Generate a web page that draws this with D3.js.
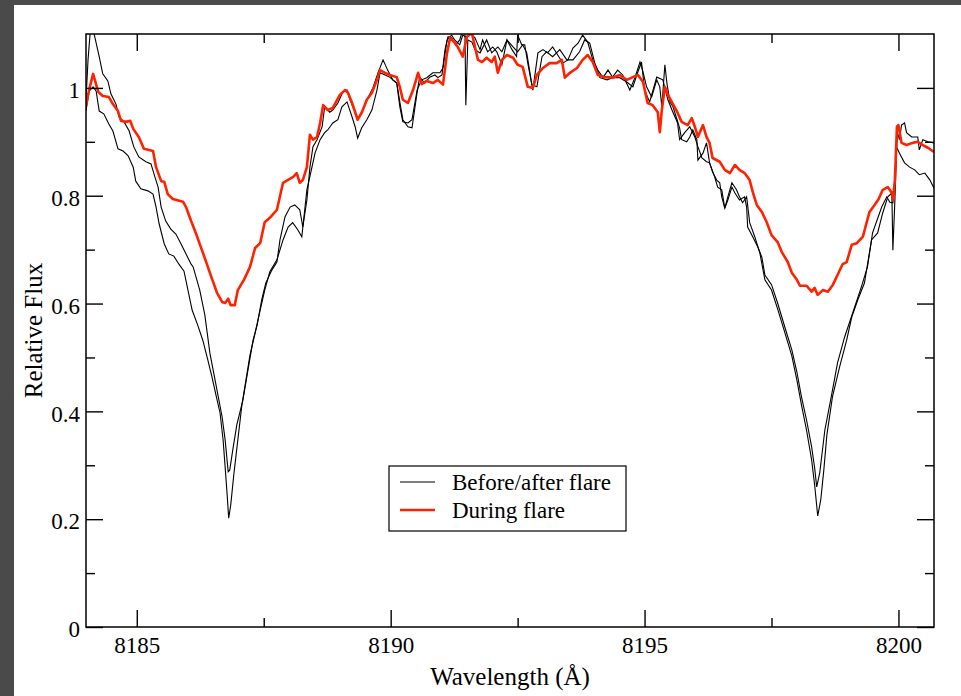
<!DOCTYPE html>
<html>
<head>
<meta charset="utf-8">
<script src="https://cdn.jsdelivr.net/npm/d3@7/dist/d3.min.js"></script>
<style>
  html, body { margin: 0; padding: 0; background: #ffffff; }
  svg { display: block; }
  svg text { font-family: 'Liberation Serif', 'Times New Roman', 'DejaVu Serif', serif; }
</style>
</head>
<body>
<svg id="chart" width="961" height="696"></svg>
<script>
// ---------------- DATA ----------------
const xMajorTicks = [8185, 8190, 8195, 8200];
const xMinorTicks = [8187.5, 8192.5, 8197.5];
const yMajorTicks = [0, 0.2, 0.4, 0.6, 0.8, 1];
const yMajorLabels = ["0", "0.2", "0.4", "0.6", "0.8", "1"];
const yMinorTicks = [0.1, 0.3, 0.5, 0.7, 0.9];
const xTitle = "Wavelength (Å)";
const yTitle = "Relative Flux";
const seriesNames = ["Before/after flare", "During flare"];

// Before flare (black, deeper cores)
const waveBefore = [8184.00,8184.06,8184.14,8184.20,8184.26,8184.35,8184.45,8184.53,8184.63,8184.73,8184.83,8184.93,8184.98,8185.08,8185.22,8185.32,8185.38,8185.44,8185.54,8185.63,8185.73,8185.83,8185.93,8186.09,8186.20,8186.30,8186.40,8186.48,8186.56,8186.64,8186.70,8186.74,8186.78,8186.81,8186.85,8186.91,8186.99,8187.07,8187.15,8187.23,8187.33,8187.43,8187.52,8187.62,8187.76,8187.88,8187.98,8188.07,8188.17,8188.25,8188.35,8188.45,8188.51,8188.61,8188.70,8188.76,8188.86,8188.96,8189.04,8189.14,8189.24,8189.30,8189.35,8189.43,8189.53,8189.63,8189.73,8189.79,8189.89,8189.98,8190.12,8190.18,8190.24,8190.34,8190.42,8190.52,8190.57,8190.67,8190.77,8190.87,8190.93,8191.01,8191.07,8191.13,8191.20,8191.28,8191.36,8191.42,8191.46,8191.48,8191.52,8191.60,8191.66,8191.76,8191.89,8191.99,8192.11,8192.19,8192.29,8192.41,8192.50,8192.60,8192.68,8192.78,8192.88,8192.98,8193.07,8193.19,8193.33,8193.47,8193.59,8193.72,8193.82,8193.92,8194.02,8194.12,8194.26,8194.37,8194.51,8194.65,8194.77,8194.87,8194.94,8195.00,8195.10,8195.24,8195.36,8195.46,8195.54,8195.65,8195.69,8195.79,8195.89,8195.99,8196.05,8196.13,8196.22,8196.28,8196.38,8196.44,8196.52,8196.58,8196.64,8196.72,8196.81,8196.87,8196.93,8197.01,8197.07,8197.17,8197.27,8197.37,8197.50,8197.62,8197.76,8197.90,8198.00,8198.09,8198.19,8198.29,8198.35,8198.41,8198.47,8198.53,8198.59,8198.70,8198.84,8198.98,8199.08,8199.20,8199.33,8199.47,8199.59,8199.69,8199.79,8199.87,8199.89,8199.93,8199.96,8199.98,8200.02,8200.06,8200.12,8200.16,8200.26,8200.38,8200.41,8200.48,8200.58,8200.70];
const fluxBefore = [0.957,0.994,1.002,0.994,0.957,0.952,0.933,0.920,0.887,0.883,0.874,0.853,0.827,0.813,0.809,0.803,0.779,0.748,0.711,0.692,0.688,0.673,0.660,0.588,0.560,0.532,0.495,0.464,0.430,0.397,0.347,0.297,0.245,0.202,0.226,0.282,0.347,0.412,0.458,0.505,0.545,0.588,0.625,0.659,0.681,0.718,0.742,0.750,0.737,0.724,0.811,0.853,0.879,0.904,0.917,0.922,0.935,0.941,0.965,0.974,0.946,0.928,0.907,0.926,0.941,0.959,0.996,1.028,1.024,1.020,1.009,0.974,0.941,0.928,0.926,0.991,1.020,1.009,1.020,1.024,1.019,1.024,1.071,1.095,1.093,1.080,1.089,1.108,1.126,0.968,1.089,1.085,1.071,1.065,1.089,1.065,1.076,1.067,1.089,1.076,1.067,1.080,1.065,1.006,1.002,1.058,1.067,1.058,1.071,1.052,1.052,1.067,1.089,1.083,1.046,1.019,1.015,1.019,1.019,1.011,1.002,1.030,1.048,0.996,0.974,1.020,1.015,0.978,0.959,0.935,0.904,0.917,0.928,0.909,0.891,0.870,0.863,0.861,0.835,0.816,0.811,0.777,0.798,0.824,0.811,0.798,0.787,0.798,0.750,0.724,0.694,0.644,0.625,0.590,0.547,0.503,0.458,0.412,0.365,0.310,0.263,0.206,0.236,0.291,0.356,0.427,0.482,0.532,0.575,0.607,0.638,0.718,0.731,0.768,0.798,0.805,0.699,0.792,0.879,0.917,0.904,0.931,0.935,0.917,0.909,0.909,0.885,0.904,0.900,0.898];

// After flare (black, shallower cores)
const waveAfter = [8184.00,8184.04,8184.08,8184.12,8184.16,8184.26,8184.33,8184.43,8184.49,8184.59,8184.65,8184.75,8184.85,8184.94,8185.04,8185.18,8185.28,8185.34,8185.42,8185.48,8185.57,8185.67,8185.77,8185.87,8185.97,8186.07,8186.11,8186.24,8186.34,8186.44,8186.56,8186.68,8186.74,8186.80,8186.83,8186.89,8186.97,8187.09,8187.19,8187.29,8187.37,8187.46,8187.54,8187.66,8187.76,8187.82,8187.92,8188.02,8188.11,8188.21,8188.27,8188.35,8188.41,8188.47,8188.55,8188.65,8188.70,8188.80,8188.86,8188.96,8189.06,8189.14,8189.20,8189.30,8189.35,8189.45,8189.55,8189.65,8189.75,8189.85,8189.94,8190.04,8190.12,8190.18,8190.24,8190.34,8190.42,8190.52,8190.61,8190.71,8190.83,8190.97,8191.03,8191.11,8191.20,8191.26,8191.36,8191.42,8191.50,8191.56,8191.66,8191.76,8191.81,8191.91,8192.01,8192.09,8192.19,8192.29,8192.39,8192.48,8192.50,8192.58,8192.64,8192.70,8192.80,8192.90,8193.00,8193.09,8193.19,8193.29,8193.39,8193.49,8193.59,8193.69,8193.78,8193.88,8193.98,8194.08,8194.18,8194.28,8194.37,8194.47,8194.57,8194.71,8194.81,8194.91,8194.96,8195.04,8195.14,8195.24,8195.30,8195.34,8195.40,8195.44,8195.50,8195.56,8195.63,8195.69,8195.73,8195.83,8195.89,8195.95,8196.03,8196.05,8196.15,8196.22,8196.28,8196.34,8196.42,8196.48,8196.52,8196.58,8196.64,8196.72,8196.78,8196.87,8196.97,8197.01,8197.03,8197.13,8197.23,8197.31,8197.37,8197.50,8197.62,8197.76,8197.90,8198.00,8198.09,8198.19,8198.29,8198.35,8198.39,8198.45,8198.55,8198.69,8198.80,8198.94,8199.10,8199.27,8199.39,8199.49,8199.67,8199.77,8199.83,8199.89,8199.93,8199.96,8200.02,8200.12,8200.22,8200.32,8200.41,8200.52,8200.62,8200.70];
const fluxAfter = [0.978,1.052,1.100,1.117,1.100,1.058,1.026,1.013,0.989,0.970,0.946,0.937,0.920,0.891,0.872,0.863,0.859,0.840,0.816,0.779,0.753,0.738,0.729,0.711,0.692,0.673,0.668,0.625,0.579,0.508,0.449,0.390,0.347,0.288,0.291,0.328,0.375,0.421,0.477,0.532,0.560,0.607,0.638,0.662,0.677,0.718,0.761,0.779,0.783,0.774,0.742,0.792,0.853,0.891,0.904,0.928,0.965,0.955,0.959,0.972,0.993,0.996,0.978,0.955,0.941,0.959,0.981,1.000,1.028,1.052,1.033,1.015,1.009,0.965,0.937,0.935,0.941,0.996,1.015,1.019,1.028,1.028,1.037,1.089,1.098,1.089,1.080,1.098,1.093,1.102,1.093,1.071,1.089,1.067,1.076,1.067,1.043,1.089,1.071,1.058,1.098,1.080,1.080,1.046,0.996,1.065,1.071,1.065,1.076,1.061,1.046,1.052,1.074,1.083,1.098,1.085,1.052,1.033,1.019,1.033,1.020,1.033,1.024,0.996,1.019,1.048,1.033,1.002,0.983,1.015,1.002,0.965,1.043,1.009,0.974,0.965,0.944,0.926,0.904,0.900,0.909,0.922,0.904,0.866,0.879,0.898,0.861,0.844,0.829,0.824,0.798,0.777,0.792,0.816,0.805,0.792,0.798,0.779,0.742,0.724,0.705,0.686,0.653,0.635,0.601,0.557,0.514,0.473,0.427,0.384,0.334,0.295,0.260,0.286,0.365,0.434,0.490,0.538,0.583,0.631,0.668,0.731,0.779,0.798,0.788,0.787,0.829,0.891,0.879,0.861,0.853,0.848,0.839,0.842,0.829,0.814];

// During flare (red)
const waveDuring = [8184.00,8184.06,8184.14,8184.24,8184.33,8184.45,8184.53,8184.63,8184.69,8184.79,8184.87,8184.93,8185.04,8185.14,8185.32,8185.38,8185.48,8185.54,8185.61,8185.71,8185.91,8185.97,8186.07,8186.17,8186.26,8186.36,8186.44,8186.58,8186.68,8186.74,8186.80,8186.85,8186.93,8186.99,8187.11,8187.23,8187.33,8187.43,8187.52,8187.62,8187.76,8187.88,8188.08,8188.15,8188.21,8188.27,8188.35,8188.41,8188.47,8188.55,8188.61,8188.67,8188.76,8188.86,8189.00,8189.10,8189.16,8189.24,8189.35,8189.43,8189.53,8189.63,8189.73,8189.79,8189.89,8189.98,8190.12,8190.18,8190.24,8190.34,8190.44,8190.54,8190.61,8190.71,8190.83,8190.93,8191.03,8191.11,8191.17,8191.26,8191.32,8191.42,8191.50,8191.60,8191.66,8191.72,8191.80,8191.89,8191.99,8192.05,8192.11,8192.19,8192.29,8192.41,8192.50,8192.60,8192.70,8192.80,8192.88,8193.00,8193.13,8193.27,8193.37,8193.43,8193.53,8193.67,8193.78,8193.88,8193.98,8194.08,8194.22,8194.37,8194.51,8194.65,8194.77,8194.87,8194.97,8195.06,8195.16,8195.26,8195.30,8195.34,8195.40,8195.46,8195.56,8195.65,8195.73,8195.85,8195.93,8195.99,8196.05,8196.15,8196.22,8196.28,8196.34,8196.48,8196.58,8196.68,8196.78,8196.87,8196.97,8197.07,8197.13,8197.21,8197.31,8197.41,8197.50,8197.62,8197.70,8197.82,8197.90,8198.00,8198.06,8198.19,8198.29,8198.35,8198.41,8198.51,8198.61,8198.71,8198.80,8198.90,8198.98,8199.08,8199.18,8199.30,8199.35,8199.43,8199.53,8199.61,8199.69,8199.79,8199.87,8199.89,8199.93,8199.97,8200.00,8200.06,8200.16,8200.28,8200.38,8200.48,8200.58,8200.70];
const fluxDuring = [0.967,0.996,1.026,0.993,0.985,0.983,0.970,0.957,0.939,0.937,0.939,0.924,0.909,0.887,0.883,0.853,0.827,0.826,0.803,0.794,0.789,0.779,0.753,0.729,0.705,0.679,0.657,0.620,0.603,0.601,0.609,0.597,0.597,0.625,0.644,0.668,0.703,0.712,0.751,0.759,0.774,0.824,0.835,0.842,0.824,0.829,0.853,0.913,0.904,0.909,0.935,0.968,0.959,0.963,0.987,0.996,0.991,0.972,0.941,0.954,0.978,0.991,1.015,1.033,1.028,1.024,1.020,1.002,0.978,0.972,0.996,1.028,1.007,1.013,1.009,1.015,1.006,1.065,1.093,1.084,1.076,1.058,1.095,1.102,1.076,1.052,1.048,1.056,1.048,1.058,1.028,1.052,1.061,1.056,1.043,1.039,1.002,1.000,1.024,1.037,1.046,1.046,1.052,1.019,1.028,1.037,1.052,1.061,1.048,1.024,1.020,1.019,1.024,1.015,1.020,1.024,1.011,0.972,0.968,0.955,0.918,0.959,1.002,0.987,0.970,0.954,0.937,0.931,0.944,0.928,0.909,0.931,0.909,0.898,0.870,0.863,0.848,0.842,0.857,0.848,0.842,0.829,0.807,0.783,0.770,0.750,0.727,0.714,0.696,0.677,0.657,0.644,0.633,0.633,0.622,0.629,0.616,0.625,0.622,0.635,0.653,0.673,0.677,0.709,0.712,0.724,0.742,0.770,0.783,0.794,0.811,0.816,0.805,0.792,0.829,0.928,0.931,0.898,0.894,0.898,0.900,0.894,0.889,0.881];

// ---------------- CHART ----------------
const W = 961, H = 696;
const plot = { left: 86, top: 34, right: 934, bottom: 627 };
const svg = d3.select("#chart");
const FONT = "'Liberation Serif', 'Times New Roman', 'DejaVu Serif', serif";

// page frame (dark border of the screenshot)
svg.append("rect").attr("x", 0).attr("y", 0).attr("width", W).attr("height", H).attr("fill", "#ffffff");
svg.append("rect").attr("x", 0).attr("y", 0).attr("width", W).attr("height", 5).attr("fill", "#4a4a4a");
svg.append("rect").attr("x", 0).attr("y", 0).attr("width", 14).attr("height", H).attr("fill", "#4a4a4a");

const x = d3.scaleLinear().domain([8184, 8200.7]).range([plot.left, plot.right]);
const y = d3.scaleLinear().domain([0, 1.1]).range([plot.bottom, plot.top]);

svg.append("clipPath").attr("id", "clip")
  .append("rect").attr("x", plot.left).attr("y", plot.top)
  .attr("width", plot.right - plot.left).attr("height", plot.bottom - plot.top);

const line = d3.line().x(d => x(d[0])).y(d => y(d[1]));
const zip = (w, f) => w.map((v, i) => [v, f[i]]);

const lines = svg.append("g").attr("clip-path", "url(#clip)");
lines.append("path").datum(zip(waveBefore, fluxBefore))
  .attr("d", line).attr("fill", "none").attr("stroke", "#000").attr("stroke-width", 1.1);
lines.append("path").datum(zip(waveAfter, fluxAfter))
  .attr("d", line).attr("fill", "none").attr("stroke", "#000").attr("stroke-width", 1.1);
lines.append("path").datum(zip(waveDuring, fluxDuring))
  .attr("d", line).attr("fill", "none").attr("stroke", "#ff2200").attr("stroke-width", 2.6)
  .attr("stroke-linejoin", "round");

// axes (ticks inward on all sides)
const MAJ = 17, MIN = 9;
function styleAxis(g) {
  g.attr("font-family", null).attr("font-size", null);
  g.select(".domain").remove();
  g.selectAll(".tick line").attr("stroke", "#000").attr("stroke-width", 1.4);
  g.selectAll("text").style("font-family", FONT).style("font-size", "23px").attr("fill", "#000");
}
// bottom
svg.append("g").attr("transform", `translate(0,${plot.bottom})`)
  .call(d3.axisBottom(x).tickValues(xMajorTicks).tickSize(-MAJ).tickPadding(10).tickFormat(d3.format("d")))
  .call(styleAxis);
svg.append("g").attr("transform", `translate(0,${plot.bottom})`)
  .call(d3.axisBottom(x).tickValues(xMinorTicks).tickSize(-MIN).tickFormat(""))
  .call(styleAxis);
// top
svg.append("g").attr("transform", `translate(0,${plot.top})`)
  .call(d3.axisTop(x).tickValues(xMajorTicks).tickSize(-MAJ).tickFormat(""))
  .call(styleAxis);
svg.append("g").attr("transform", `translate(0,${plot.top})`)
  .call(d3.axisTop(x).tickValues(xMinorTicks).tickSize(-MIN).tickFormat(""))
  .call(styleAxis);
// left
svg.append("g").attr("transform", `translate(${plot.left},0)`)
  .call(d3.axisLeft(y).tickValues(yMajorTicks).tickSize(-MAJ).tickPadding(6)
    .tickFormat((d, i) => yMajorLabels[i]))
  .call(styleAxis)
  .selectAll("text").attr("dy", "0.42em");
svg.append("g").attr("transform", `translate(${plot.left},0)`)
  .call(d3.axisLeft(y).tickValues(yMinorTicks).tickSize(-MIN).tickFormat(""))
  .call(styleAxis);
// right
svg.append("g").attr("transform", `translate(${plot.right},0)`)
  .call(d3.axisRight(y).tickValues(yMajorTicks).tickSize(-MAJ).tickFormat(""))
  .call(styleAxis);
svg.append("g").attr("transform", `translate(${plot.right},0)`)
  .call(d3.axisRight(y).tickValues(yMinorTicks).tickSize(-MIN).tickFormat(""))
  .call(styleAxis);

// frame
svg.append("rect").attr("x", plot.left).attr("y", plot.top)
  .attr("width", plot.right - plot.left).attr("height", plot.bottom - plot.top)
  .attr("fill", "none").attr("stroke", "#000").attr("stroke-width", 1.5);

// axis titles
svg.append("text").attr("x", (plot.left + plot.right) / 2).attr("y", 685)
  .attr("text-anchor", "middle").style("font-family", FONT).style("font-size", "25px")
  .attr("fill", "#000").text(xTitle);
svg.append("text").attr("transform", `translate(42,${(plot.top + plot.bottom) / 2}) rotate(-90)`)
  .attr("text-anchor", "middle").style("font-family", FONT).style("font-size", "25px")
  .attr("fill", "#000").text(yTitle);

// legend
const lg = svg.append("g");
lg.append("rect").attr("x", 389).attr("y", 466).attr("width", 237).attr("height", 65)
  .attr("fill", "#fff").attr("stroke", "#000").attr("stroke-width", 1.2);
const legendColors = ["#000", "#ff2200"];
const legendWidths = [1.1, 2.6];
seriesNames.forEach((name, i) => {
  const yy = 482 + i * 28;
  lg.append("line").attr("x1", 400).attr("x2", 435).attr("y1", yy).attr("y2", yy)
    .attr("stroke", legendColors[i]).attr("stroke-width", legendWidths[i]);
  lg.append("text").attr("x", 452).attr("y", yy + 8)
    .style("font-family", FONT).style("font-size", "23px").attr("fill", "#000").text(name);
});
</script>
</body>
</html>
